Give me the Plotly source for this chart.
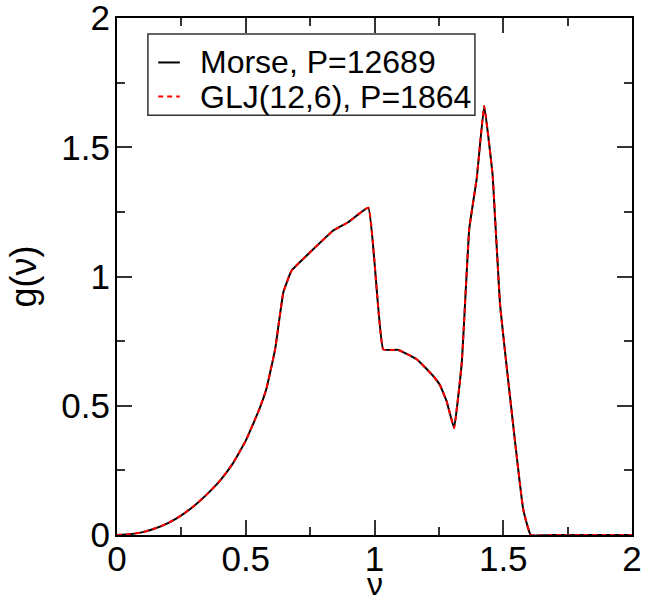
import plotly.graph_objects as go

nu = [0.0, 0.05, 0.10, 0.15, 0.20, 0.25, 0.30, 0.35, 0.40, 0.45, 0.50, 0.55,
      0.58, 0.614, 0.646, 0.678, 0.75, 0.84, 0.898, 0.976, 1.034, 1.093, 1.164,
      1.228, 1.254, 1.28, 1.309, 1.339, 1.368, 1.397, 1.426, 1.459, 1.487, 1.578, 1.607,
      1.7, 1.8, 1.9, 2.0]
g_morse = [0.0, 0.003, 0.011, 0.026, 0.047, 0.076, 0.113, 0.158, 0.21, 0.277, 0.365, 0.48,
           0.565, 0.718, 0.939, 1.023, 1.094, 1.178, 1.21, 1.266, 0.718, 0.716, 0.68,
           0.615, 0.58, 0.518, 0.414, 0.667, 1.184, 1.379, 1.66, 1.39, 0.90, 0.097, 0.0,
           0.0, 0.0, 0.0, 0.0]
g_glj = [0.0, 0.003, 0.011, 0.026, 0.047, 0.076, 0.113, 0.158, 0.21, 0.277, 0.365, 0.48,
         0.565, 0.718, 0.939, 1.023, 1.094, 1.178, 1.21, 1.266, 0.718, 0.716, 0.68,
         0.615, 0.58, 0.518, 0.414, 0.667, 1.184, 1.379, 1.66, 1.39, 0.90, 0.097, 0.0,
         0.0, 0.0, 0.0, 0.0]
tick_vals = [0, 0.5, 1, 1.5, 2]
tick_text = ["0", "0.5", "1", "1.5", "2"]
series_names = ["Morse, P=12689", "GLJ(12,6), P=1864"]

FONT = "Liberation Sans, Arial, sans-serif"

fig = go.Figure()
fig.add_trace(go.Scatter(x=nu, y=g_morse, mode="lines", name=series_names[0], showlegend=False,
                         line=dict(color="black", width=2, shape="spline", smoothing=0.3)))
fig.add_trace(go.Scatter(x=nu, y=g_glj, mode="lines", name=series_names[1], showlegend=False,
                         line=dict(color="red", width=2, dash="5px,4px", shape="spline", smoothing=0.3)))

axis_common = dict(
    showline=True, linecolor="black", linewidth=2, mirror="ticks",
    ticks="inside", ticklen=15, tickwidth=1.5, tickcolor="#333",
    showgrid=False, zeroline=False, automargin=False, ticklabeloverflow="allow",
    tickfont=dict(family=FONT, size=35, color="black"),
    minor=dict(ticks="inside", ticklen=8, tickwidth=1.5, tickcolor="#333", dtick=0.25, showgrid=False),
)

fig.update_xaxes(range=[-0.0001, 2.0001], tickvals=tick_vals, ticktext=tick_text,
                 ticklabelstandoff=-8, **axis_common)
fig.update_yaxes(range=[-0.0001, 2.0001], tickvals=tick_vals, ticktext=tick_text,
                 ticklabelstandoff=-2,
                 title=dict(text="g(ν)", font=dict(family=FONT, size=36, color="black"), standoff=14),
                 **axis_common)

# x-axis title
fig.add_annotation(xref="paper", yref="paper", x=0.5, y=-0.133, xanchor="center", yanchor="bottom",
                   text="ν", showarrow=False, font=dict(family=FONT, size=32, color="black"))

# Legend box (drawn manually to match the compact xmgrace legend)
fig.add_shape(type="rect", xref="paper", yref="paper", x0=0.060, x1=0.695, y0=0.812, y1=0.969,
              line=dict(color="#333", width=1.5), fillcolor="white", layer="above")
fig.add_shape(type="line", xref="paper", yref="paper", x0=0.080, x1=0.122, y0=0.914, y1=0.914,
              line=dict(color="black", width=2), layer="above")
fig.add_shape(type="line", xref="paper", yref="paper", x0=0.080, x1=0.122, y0=0.848, y1=0.848,
              line=dict(color="red", width=2, dash="5px,4px"), layer="above")
fig.add_annotation(xref="paper", yref="paper", x=0.158, y=0.914, xanchor="left", yanchor="middle",
                   text=series_names[0], showarrow=False,
                   font=dict(family=FONT, size=32, color="black"))
fig.add_annotation(xref="paper", yref="paper", x=0.158, y=0.848, xanchor="left", yanchor="middle",
                   text=series_names[1], showarrow=False,
                   font=dict(family=FONT, size=32, color="black"))

fig.update_layout(
    width=646, height=605,
    margin=dict(l=117, r=14, t=18, b=70),
    plot_bgcolor="white", paper_bgcolor="white",
    showlegend=False,
)

fig.write_html("out.html")
